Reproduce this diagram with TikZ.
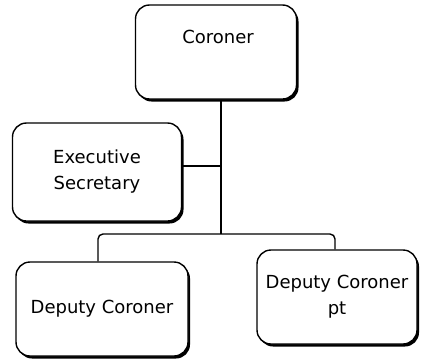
\documentclass[tikz,border=0pt]{standalone}
\usepackage{fontspec}
\setmainfont{DejaVu Sans}
\usetikzlibrary{shadows}
\begin{document}
\begin{tikzpicture}[x=1pt,y=-1pt,
  orgbox/.style={draw=black, line width=1.4pt, rounded corners=14pt, fill=white,
    drop shadow={shadow xshift=2pt, shadow yshift=-2.5pt, fill=black, opacity=1},
    align=center, font=\fontsize{18}{26}\selectfont, inner sep=0pt},
  boxlabel/.style={font=\fontsize{18}{26}\selectfont, align=center, inner sep=0pt},
  conn/.style={line width=1.4pt, rounded corners=5pt}]
\useasboundingbox (0,0) rectangle (422,362);
\node[orgbox, minimum width=161pt, minimum height=94pt] (coroner) at (216,52) {};
\node[boxlabel] (coronertext) at (218,37) {Coroner};
\node[orgbox, minimum width=169pt, minimum height=98pt] (exec) at (97,172) {Executive\\Secretary};
\node[orgbox, minimum width=172pt, minimum height=94pt] (dep) at (102,309) {Deputy Coroner};
\node[orgbox, minimum width=160pt, minimum height=94pt] (deppt) at (337,297) {Deputy Coroner\\pt};
\coordinate (j) at (221,234);
\draw[conn] (coroner.south -| j) -- (j);
\draw[conn] ([yshift=6pt]exec.east) -- ([yshift=6pt]exec.east -| j);
\draw[conn] ([xshift=-4pt]dep.north) |- (j) -| ([xshift=-2pt]deppt.north);
\end{tikzpicture}
\end{document}
